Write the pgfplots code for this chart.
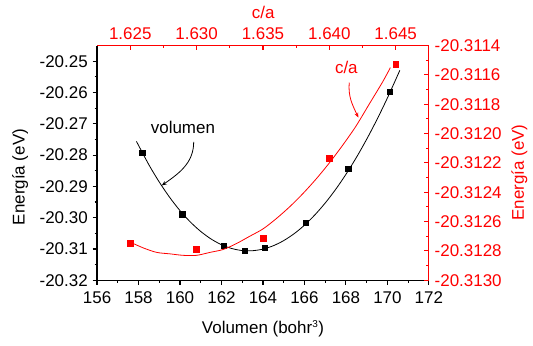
\documentclass[border=0pt]{standalone}
\usepackage{fontspec}
\setmainfont{Liberation Sans}
\usepackage{pgfplots}
\pgfplotsset{compat=1.18}
\usetikzlibrary{arrows.meta}
\definecolor{myred}{RGB}{255,0,0}
\newcommand{\chartfont}{\fontsize{17}{20}\selectfont}

\pgfplotstableread{
x y
158.18 -20.2792
160.11 -20.2989
162.09 -20.3089
163.10 -20.3105
164.08 -20.3095
166.08 -20.3015
168.11 -20.2843
170.13 -20.2598
}\volpts

\pgfplotstableread{
x y
157.9 -20.27562
158.5 -20.28309
159.0 -20.28860
159.5 -20.29349
160.0 -20.29775
160.5 -20.30138
161.0 -20.30440
161.5 -20.30682
162.0 -20.30864
162.5 -20.30986
163.0 -20.31050
163.5 -20.31055
164.0 -20.31004
164.5 -20.30896
165.0 -20.30732
165.5 -20.30513
166.0 -20.30240
166.5 -20.29912
167.0 -20.29532
167.5 -20.29100
168.0 -20.28615
168.5 -20.28080
169.0 -20.27494
169.5 -20.26859
170.0 -20.26174
170.6 -20.25290
}\volfit

\pgfplotstableread{
x y
1.625 -20.31275
1.630 -20.31279
1.635 -20.31271
1.640 -20.31217
1.645 -20.31153
}\capts

\pgfplotstableread{
x y
1.6250 -20.31274
1.6260 -20.31278
1.6270 -20.31281
1.6280 -20.31282
1.6290 -20.31283
1.6300 -20.31283
1.6310 -20.31281
1.6320 -20.31279
1.6330 -20.31275
1.6340 -20.31270
1.6350 -20.31265
1.6360 -20.31258
1.6370 -20.31250
1.6380 -20.31241
1.6390 -20.31231
1.6400 -20.31220
1.6410 -20.31208
1.6420 -20.31195
1.6430 -20.31180
1.6440 -20.31165
1.6446 -20.31155
}\cafit

\begin{document}
\chartfont
\begin{tikzpicture}[x=1pt,y=1pt]
\path (0,0) rectangle (533,346);
\begin{axis}[
  at={(97.3pt,65pt)}, anchor=south west,
  scale only axis, width=332.7pt, height=235.3pt,
  xmin=156, xmax=172, ymin=-20.32, ymax=-20.245,
  axis x line*=bottom, axis y line*=left,
  axis line style={line width=1.1pt, -},
  xtick={156,158,160,162,164,166,168,170,172},
  ytick={-20.32,-20.31,-20.30,-20.29,-20.28,-20.27,-20.26,-20.25},
  yticklabels={-20.32,-20.31,-20.30,-20.29,-20.28,-20.27,-20.26,-20.25},
  minor x tick num=1, minor y tick num=1,
  tick align=outside,
  major tick length=4.5pt, minor tick length=2.5pt,
  tick style={line width=1.1pt, black},
  /pgf/number format/assume math mode=true,
  ticklabel style={font=\chartfont},
  xticklabel style={yshift=-1pt},
  yticklabel style={xshift=1pt},
  xlabel={Volumen (bohr\textsuperscript{\fontsize{10}{12}\selectfont 3})},
  ylabel={Energía (eV)},
  label style={font=\chartfont},
  xlabel style={at={(axis description cs:0.5,-0.208)}, anchor=center},
  ylabel style={at={(axis description cs:-0.232,0.44)}, anchor=center},
  clip=false,
]
\addplot[black, line width=0.8pt, smooth] table[x=x,y=y] {\volfit};
\addplot[black, only marks, mark=square*, mark size=2.6pt] table[x=x,y=y] {\volpts};
\node[font=\chartfont] at (axis cs:160.14,-20.2711) {volumen};
\draw[-{Stealth[length=5pt,width=4pt]}, line width=0.8pt] (axis cs:160.66,-20.2758) to[out=-90,in=35] (axis cs:159.12,-20.2897);
\node[myred, font=\chartfont] at (axis cs:168.02,-20.2521) {c/a};
\draw[myred, -{Stealth[length=5pt,width=4pt]}, line width=0.8pt] (axis cs:168.16,-20.2568) to[out=-95,in=115] (axis cs:168.60,-20.2680);
\end{axis}
\begin{axis}[
  at={(97.3pt,65pt)}, anchor=south west,
  scale only axis, width=332.7pt, height=235.3pt,
  xmin=1.6225, xmax=1.6475, ymin=-20.3130, ymax=-20.3114,
  axis x line*=top, axis y line*=right,
  axis line style={line width=1.1pt, myred, -},
  xtick={1.625,1.630,1.635,1.640,1.645},
  xticklabels={1.625,1.630,1.635,1.640,1.645},
  ytick={-20.3130,-20.3128,-20.3126,-20.3124,-20.3122,-20.3120,-20.3118,-20.3116,-20.3114},
  yticklabels={-20.3130,-20.3128,-20.3126,-20.3124,-20.3122,-20.3120,-20.3118,-20.3116,-20.3114},
  minor x tick num=1, minor y tick num=1,
  tick align=inside,
  major tick length=4.5pt, minor tick length=2.5pt,
  tick style={line width=1.1pt, myred},
  ticklabel style={font=\chartfont, text=myred},
  xlabel={c/a}, ylabel={Energía (eV)},
  label style={font=\chartfont, text=myred},
  xlabel style={at={(axis description cs:0.501,1.140)}, anchor=center},
  ylabel style={at={(axis description cs:1.2726,0.459)}, anchor=center},
]
\addplot[myred, line width=0.8pt, smooth] table[x=x,y=y] {\cafit};
\addplot[myred, only marks, mark=square*, mark size=3pt] table[x=x,y=y] {\capts};
\end{axis}
\end{tikzpicture}
\end{document}
